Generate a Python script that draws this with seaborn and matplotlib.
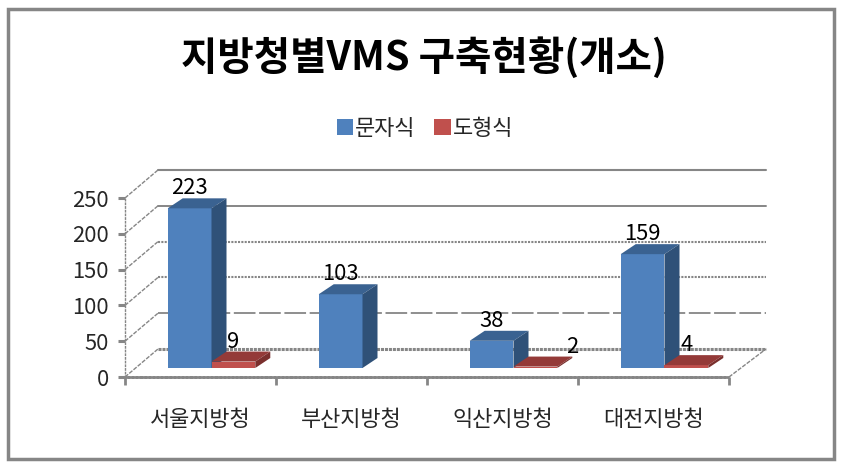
# 지방청별 VMS 구축현황 - Excel style 3D column chart
import pandas as pd
import matplotlib.pyplot as plt
import seaborn as sns
from matplotlib.patches import Polygon, Rectangle

# --- Data ---
offices = ['서울지방청', '부산지방청', '익산지방청', '대전지방청']
text_type = [223, 103, 38, 159]
graphic_type = [9, 0, 2, 4]
series_names = ['문자식', '도형식']
y_ticks = [0, 50, 100, 150, 200, 250]
chart_title = '지방청별VMS 구축현황(개소)'

# --- Setup ---
sns.set_theme(style='white')
plt.rcParams['font.family'] = ['Noto Sans CJK KR', 'DejaVu Sans']

W, H = 842, 473
GRAY = '#868686'
front_colors = ['#4F81BD', '#C0504D']
top_colors = ['#3A6291', '#943A38']
side_colors = ['#2F5178', '#7A2F2D']

df = pd.DataFrame({'office': offices, series_names[0]: text_type, series_names[1]: graphic_type})
df = df.melt(id_vars='office', var_name='kind', value_name='count')

fig = plt.figure(figsize=(W / 100, H / 100), dpi=100, facecolor='white')
fig.patches.append(Rectangle((8 / W, 1 - 459 / H), 826 / W, 450 / H, transform=fig.transFigure,
                             fill=False, edgecolor=GRAY, linewidth=2.5))

# front plane of the box carries the ticks, bars sit a little further back
left, right, base, top = 125, 729, 377, 198
ax = fig.add_axes([left / W, 1 - base / H, (right - left) / W, (base - top) / H], zorder=1)
ax_bars = fig.add_axes([(left + 11) / W, 1 - (base - 9) / H, (right - left) / W, (base - top) / H], zorder=2)
ax.patch.set_alpha(0)

# px -> data units
px_x = 4 / (right - left)
px_y = 250 / (base - top)

# --- Axes frame ---
ax.set_xlim(-0.5, 3.5)
ax.set_ylim(0, 250)
ax.set_yticks(y_ticks)
ax.set_xticks(range(4))
ax.set_xticklabels(offices)
ax.set_xticks([-0.5, 0.5, 1.5, 2.5, 3.5], minor=True)
ax.tick_params(axis='y', length=5, width=2.2, color=GRAY, labelsize=15.8, pad=6.5, left=True)
ax.tick_params(axis='x', which='major', length=0, labelsize=15.8, pad=23)
ax.tick_params(axis='x', which='minor', length=6, width=2, color=GRAY, bottom=True)
for s in ['top', 'right']:
    ax.spines[s].set_visible(False)
ax.spines['left'].set(color=GRAY, linewidth=1, linestyle=':')
ax.spines['bottom'].set(color=GRAY, linewidth=2, linestyle=(0, (1, 0.5)))

# --- Back wall and side wall, styles listed from 250 down to 0 ---
depth_l, depth_r, depth_y = 33 * px_x, 37 * px_x, 28 * px_y
wall_styles = ['-', '-', (0, (1, 0.6)), (0, (1, 0.6)), (0, (12, 2)), (0, (1, 0.3))]
wall_widths = [1.5, 1.4, 1.5, 1.5, 1.3, 2.2]
for v, ls, lw in zip(reversed(y_ticks), wall_styles, wall_widths):
    ax.plot([-0.5 + depth_l, 3.5 + depth_r], [v + depth_y, v + depth_y], color=GRAY, ls=ls, lw=lw, clip_on=False)
    ax.plot([-0.5, -0.5 + depth_l], [v, v + depth_y], color=GRAY, ls=(0, (3, 1)), lw=1, clip_on=False)
ax.plot([3.5, 3.5 + depth_r], [0, depth_y], color=GRAY, ls=(0, (3, 1)), lw=1, clip_on=False)

# --- Bars ---
sns.barplot(data=df, x='office', y='count', hue='kind', hue_order=series_names, palette=front_colors,
            width=0.58, gap=0, saturation=1, linewidth=0, ax=ax_bars)
ax_bars.set_xlim(-0.5, 3.5)
ax_bars.set_ylim(0, 250)
ax_bars.axis('off')
ax_bars.patch.set_alpha(0)

bar_dx, bar_dy = 15 * px_x, 10 * px_y
label_shift = {'2': 37}
for i, cont in enumerate(ax_bars.containers):
    for p in cont:
        h = p.get_height()
        if h == 0:
            p.set_visible(False)
            continue
        x0, x1 = p.get_x(), p.get_x() + p.get_width()
        p.set_edgecolor('none')
        p.set_zorder(3 + i)
        p.set_clip_on(False)
        ax_bars.add_patch(Polygon([(x0, h), (x1, h), (x1 + bar_dx, h + bar_dy), (x0 + bar_dx, h + bar_dy)],
                                  facecolor=top_colors[i], edgecolor='none', zorder=3 + i, clip_on=False))
        ax_bars.add_patch(Polygon([(x1, 0), (x1 + bar_dx, bar_dy), (x1 + bar_dx, h + bar_dy), (x1, h)],
                                  facecolor=side_colors[i], edgecolor='none', zorder=3 + i, clip_on=False))
        txt = str(int(h))
        ax_bars.annotate(txt, ((x0 + x1) / 2, h + bar_dy), xytext=(label_shift.get(txt, 0), 10),
                         textcoords='offset pixels', ha='center', va='center', fontsize=15.8,
                         color='black', zorder=10, annotation_clip=False)

# --- Legend and title ---
sns.move_legend(ax_bars, 'center', bbox_to_anchor=(425 / W, 1 - 129 / H), bbox_transform=fig.transFigure,
                ncol=2, frameon=False, title=None, fontsize=15.8, handlelength=0.75, handleheight=0.75,
                handletextpad=0.1, columnspacing=0.85)
fig.text(424 / W, 1 - 58 / H, chart_title, ha='center', va='center', fontsize=28.5, fontweight='bold', color='black')

plt.savefig('out.png', dpi=100)
plt.close()
